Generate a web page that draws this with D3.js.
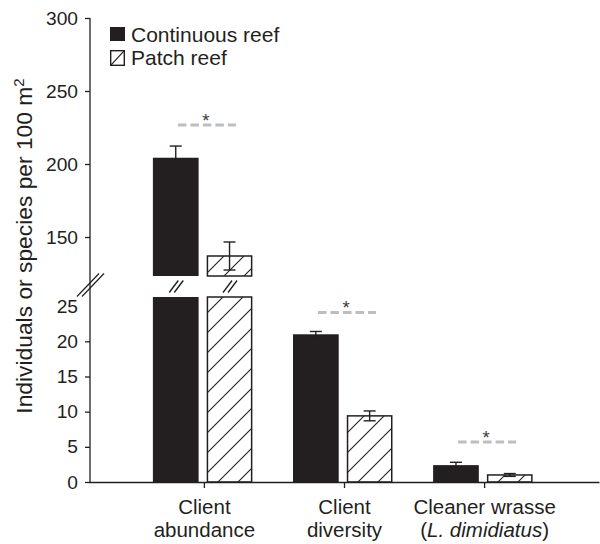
<!DOCTYPE html>
<html>
<head>
<meta charset="utf-8">
<script src="https://cdn.jsdelivr.net/npm/d3@7"></script>
<style>
  body { margin: 0; background: #fff; }
  svg { display: block; font-family: "Liberation Sans", Arial, Helvetica, sans-serif; }
</style>
</head>
<body>
<script>
// ---- data ----
const categories = ["Client abundance", "Client diversity", "Cleaner wrasse"];
const categoryLines = [["Client", "abundance"], ["Client", "diversity"], ["Cleaner wrasse", "(L. dimidiatus)"]];
const series = ["Continuous reef", "Patch reef"];
const continuousMean = [204.3, 21.0, 2.4];
const continuousSE = [8.0, 0.4, 0.4];
const patchMean = [137.0, 9.4, 1.0];
const patchSE = [9.6, 0.7, 0.2];
const significance = ["*", "*", "*"];
const significanceLevel = [226.7, 24.1, 5.7];
const lowerTicks = [0, 5, 10, 15, 20, 25];
const upperTicks = [150, 200, 250, 300];
const lowerDomain = [0, 26.3];
const upperDomain = [123.3, 300];

const ink = "#231f20";
const W = 600, H = 544;

const svg = d3.select("body").append("svg").attr("width", W).attr("height", H);

// diagonal hatch for patch reef bars
const defs = svg.append("defs");
const hatch = defs.append("pattern")
  .attr("id", "hatch").attr("patternUnits", "userSpaceOnUse")
  .attr("width", 20).attr("height", 20);
hatch.append("rect").attr("width", 20).attr("height", 20).attr("fill", "#fff");
hatch.append("path")
  .attr("d", "M0,20L20,0M-5,5L5,-5M15,25L25,15")
  .attr("stroke", ink).attr("stroke-width", 1.1);

// ---- scales: broken y axis (lower and upper segments) ----
const axisX = 90;
const yLower = d3.scaleLinear().domain(lowerDomain).range([482, 297]);
const yUpper = d3.scaleLinear().domain(upperDomain).range([276, 18]);
const yv = v => v <= lowerDomain[1] ? yLower(v) : yUpper(v);

const x = d3.scalePoint().domain(categories).range([89, 599]).padding(0.82);
const xs = d3.scaleBand().domain(series).range([-51, 48.5]).paddingInner(0.15);

const rows = categories.map((c, i) => [
  { cat: c, s: series[0], v: continuousMean[i], se: continuousSE[i] },
  { cat: c, s: series[1], v: patchMean[i], se: patchSE[i] }
]).flat();

// ---- bars ----
const gBars = svg.append("g");
rows.forEach(d => {
  const bx = x(d.cat) + xs(d.s);
  const bw = xs.bandwidth();
  const patch = d.s === series[1];
  const segs = [];
  if (d.v <= lowerDomain[1]) {
    segs.push([yLower(d.v), yLower(0)]);
  } else {
    segs.push([yLower(lowerDomain[1]), yLower(0)]);
    segs.push([yUpper(d.v), yUpper(upperDomain[0])]);
  }
  segs.forEach(([y0, y1]) => {
    gBars.append("rect")
      .attr("x", patch ? bx + 0.75 : bx).attr("width", patch ? bw - 1.5 : bw)
      .attr("y", y0).attr("height", y1 - y0)
      .attr("fill", patch ? "url(#hatch)" : ink)
      .attr("stroke", patch ? ink : "none").attr("stroke-width", 1.5);
  });
  if (segs.length > 1) {
    // break marks between the two bar segments
    const cx = bx + bw / 2;
    const my = (yLower(lowerDomain[1]) + yUpper(upperDomain[0])) / 2;
    [-2, 3].forEach(o => {
      gBars.append("line")
        .attr("x1", cx + o - 4.5).attr("y1", my + 6)
        .attr("x2", cx + o + 4.5).attr("y2", my - 6)
        .attr("stroke", ink).attr("stroke-width", 1.4);
    });
  }
});

// ---- error bars ----
const gErr = svg.append("g").attr("stroke", ink).attr("stroke-width", 1.4);
rows.forEach(d => {
  const cx = x(d.cat) + xs(d.s) + xs.bandwidth() / 2;
  const top = yv(d.v + d.se), bot = yv(d.v - d.se);
  gErr.append("line").attr("x1", cx).attr("x2", cx).attr("y1", top).attr("y2", bot);
  [top, bot].forEach(yy => gErr.append("line")
    .attr("x1", cx - 6).attr("x2", cx + 6).attr("y1", yy).attr("y2", yy));
});

// ---- significance markers ----
categories.forEach((c, i) => {
  const cx = x(c) + 3;
  const yy = yv(significanceLevel[i]);
  svg.append("line")
    .attr("x1", cx - 29).attr("x2", cx + 29).attr("y1", yy).attr("y2", yy)
    .attr("stroke", "#bcbec0").attr("stroke-width", 3)
    .attr("stroke-dasharray", "8.5,4");
  svg.append("text")
    .attr("x", cx - 1).attr("y", yy + 2)
    .attr("text-anchor", "middle").attr("font-size", 18.5).attr("fill", "#3a3a3a")
    .text(significance[i]);
});

// ---- y axes ----
function styleAxis(g) {
  g.select(".domain").remove();
  g.selectAll(".tick line").attr("stroke", ink).attr("stroke-width", 1.3);
  g.selectAll(".tick text").attr("fill", ink).attr("font-size", 19.2)
    .attr("font-family", "Liberation Sans, Arial, sans-serif");
}
const gUp = svg.append("g").attr("transform", `translate(${axisX},0)`)
  .call(d3.axisLeft(yUpper).tickValues(upperTicks).tickSize(5).tickPadding(7).tickSizeOuter(0));
styleAxis(gUp);
const gLo = svg.append("g").attr("transform", `translate(${axisX},0)`)
  .call(d3.axisLeft(yLower).tickValues(lowerTicks).tickSize(5).tickPadding(7).tickSizeOuter(0));
styleAxis(gLo);
gLo.selectAll(".tick").filter(d => d === lowerDomain[1] - lowerDomain[1] % 5).select("line").remove();

svg.append("line")
  .attr("x1", axisX).attr("x2", axisX)
  .attr("y1", yUpper(upperTicks[upperTicks.length - 1])).attr("y2", yLower(0))
  .attr("stroke", ink).attr("stroke-width", 1.3);

// axis break marks
const by = (yLower(lowerDomain[1]) + yUpper(upperDomain[0])) / 2;
[-3, 2].forEach(o => {
  svg.append("line")
    .attr("x1", axisX + o - 10).attr("y1", by + 10)
    .attr("x2", axisX + o + 12).attr("y2", by - 13)
    .attr("stroke", ink).attr("stroke-width", 1.2);
});

// ---- x axis ----
const gX = svg.append("g").attr("transform", `translate(0,${yLower(0)})`)
  .call(d3.axisBottom(x).tickSize(6).tickSizeOuter(0));
gX.select(".domain").attr("stroke", ink).attr("stroke-width", 1.3);
gX.selectAll(".tick line").attr("stroke", ink).attr("stroke-width", 1.3);
gX.selectAll(".tick text").each(function (d, i) {
  const t = d3.select(this).text(null).attr("y", null).attr("dy", null)
    .attr("fill", ink).attr("font-size", 20.5)
    .attr("font-family", "Liberation Sans, Arial, sans-serif");
  const lines = categoryLines[i];
  t.append("tspan").attr("x", 0).attr("y", 32).text(lines[0]);
  const m = lines[1].match(/^\((.*)\)$/);
  if (m) {
    const t2 = t.append("tspan").attr("x", 0).attr("y", 55);
    t2.append("tspan").text("(");
    t2.append("tspan").attr("font-style", "italic").text(m[1]);
    t2.append("tspan").text(")");
  } else {
    t.append("tspan").attr("x", 0).attr("y", 55).text(lines[1]);
  }
});

// ---- y axis title ----
const yTitle = svg.append("text")
  .attr("transform", "translate(32,246) rotate(-90)")
  .attr("text-anchor", "middle").attr("font-size", 22.8).attr("fill", ink);
yTitle.append("tspan").text("Individuals or species per 100 m");
yTitle.append("tspan").attr("font-size", 15).attr("dy", -8).text("2");

// ---- legend ----
const legend = svg.append("g").attr("transform", "translate(110,27)");
series.forEach((s, i) => {
  const g = legend.append("g").attr("transform", `translate(0,${i * 23})`);
  if (i === 0) {
    g.append("rect").attr("width", 15).attr("height", 14).attr("fill", ink);
  } else {
    g.append("rect").attr("x", 0.7).attr("y", 0.7).attr("width", 13.6).attr("height", 14.6)
      .attr("fill", "#fff").attr("stroke", ink).attr("stroke-width", 1.4);
    g.append("line").attr("x1", 0.7).attr("y1", 15.3).attr("x2", 14.3).attr("y2", 0.7)
      .attr("stroke", ink).attr("stroke-width", 1.2);
  }
  g.append("text").attr("x", 21).attr("y", 14.5 + i * 0.5)
    .attr("font-size", 21).attr("fill", ink).text(s);
});
</script>
</body>
</html>
